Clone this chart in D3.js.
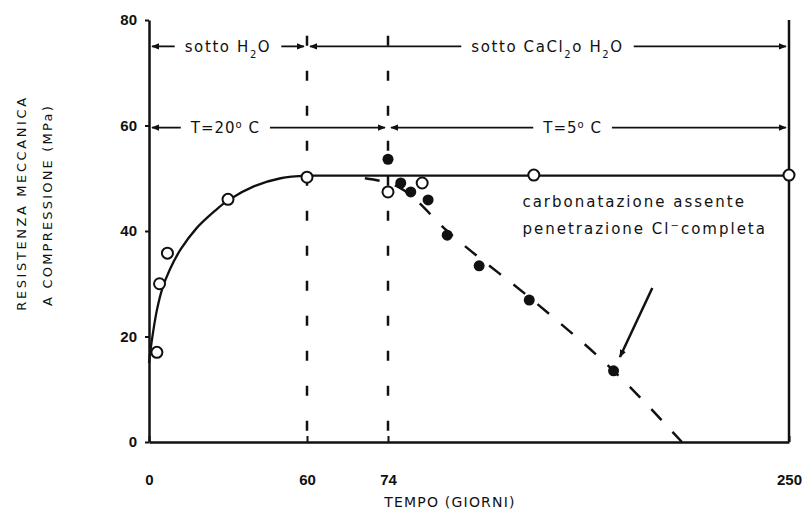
<!DOCTYPE html>
<html>
<head>
<meta charset="utf-8">
<script src="https://cdn.jsdelivr.net/npm/d3@7"></script>
<style>
  body { margin: 0; background: #fff; }
  svg { font-family: "DejaVu Sans", sans-serif; }
</style>
</head>
<body>
<svg id="chart" width="811" height="522"></svg>
<script>
// axis ticks
var xTicks = [0, 60, 74, 250];
var yTicks = [0, 20, 40, 60, 80];

// open circles : cured under water
var openDays   = [3, 4, 7, 30, 60, 74, 89, 138, 250];
var openValues = [17, 30, 35.8, 46, 50.2, 47.4, 49.1, 50.6, 50.6];

// filled circles : under CaCl2
var filledDays   = [74, 79.6, 84, 91.6, 100, 114, 136, 173];
var filledValues = [53.6, 49.1, 47.4, 45.9, 39.2, 33.4, 26.9, 13.5];

// solid curve (rise) and plateau
var curveDays   = [0, 1, 3, 5, 8, 12, 18, 25, 30, 40, 50, 60];
var curveValues = [15, 19, 25, 29, 32.8, 36.5, 40.5, 43.8, 45.8, 48.5, 50, 50.5];
var plateauDays   = [60, 250];
var plateauValues = [50.5, 50.5];

// dashed trend
var trendDays   = [70, 80, 100, 140, 173, 203];
var trendValues = [50, 48, 40, 26, 13.5, 0];

// period bands on top
var bandFrom   = [0, 60, 0, 74];
var bandTo     = [60, 250, 74, 250];
var bandLabelAt = [30, 144, 29, 155];
var bandLevel  = [75, 75, 59.6, 59.6];

var svg = d3.select("#chart");

// time axis is broken: three linear pieces
var x = d3.scaleLinear().domain([0, 60, 74, 250]).range([149, 307, 388, 789]);
var y = d3.scaleLinear().domain([0, 80]).range([442, 20]);

var ink = "#111";

// axes
var xAxis = d3.axisBottom(x).tickValues(xTicks).tickSizeInner(-6).tickSizeOuter(0).tickPadding(38);
var yAxis = d3.axisLeft(y).tickValues(yTicks).tickSizeInner(4).tickSizeOuter(0).tickPadding(8);

var gx = svg.append("g").attr("transform", "translate(0," + y(0) + ")").call(xAxis);
var gy = svg.append("g").attr("transform", "translate(" + x(0) + ",0)").call(yAxis);

[gx, gy].forEach(function(g) {
  g.select(".domain").attr("stroke", ink).attr("stroke-width", 2.5);
  g.selectAll(".tick line").attr("stroke", ink).attr("stroke-width", 2);
  g.selectAll(".tick text").attr("fill", ink).style("font-size", "15px").style("font-weight", "bold");
});
gx.selectAll(".tick text").attr("dy", "0.3em");

// right border
svg.append("line")
  .attr("x1", x(250)).attr("x2", x(250))
  .attr("y1", y(80)).attr("y2", y(0))
  .attr("stroke", ink).attr("stroke-width", 2.5);

// vertical dashed lines at 60 and 74
svg.selectAll(".vline").data([60, 74]).enter().append("line")
  .attr("class", "vline")
  .attr("x1", function(d) { return x(d); })
  .attr("x2", function(d) { return x(d); })
  .attr("y1", y(77)).attr("y2", y(0))
  .attr("stroke", ink).attr("stroke-width", 2.5)
  .attr("stroke-dasharray", "10,25");

var line = d3.line().x(function(d) { return x(d[0]); }).y(function(d) { return y(d[1]); });

// curve
var curvePts = curveDays.map(function(d, i) { return [d, curveValues[i]]; });
svg.append("path")
  .datum(curvePts)
  .attr("fill", "none").attr("stroke", ink).attr("stroke-width", 2.3)
  .attr("d", line.curve(d3.curveCatmullRom.alpha(0.5)));

var plateauPts = plateauDays.map(function(d, i) { return [d, plateauValues[i]]; });
svg.append("path")
  .datum(plateauPts)
  .attr("fill", "none").attr("stroke", ink).attr("stroke-width", 2.3)
  .attr("d", line.curve(d3.curveLinear));

// dashed trend
var trendPts = trendDays.map(function(d, i) { return [d, trendValues[i]]; });
svg.append("path")
  .datum(trendPts)
  .attr("fill", "none").attr("stroke", ink).attr("stroke-width", 2.5)
  .attr("stroke-dasharray", "15,16")
  .attr("d", line.curve(d3.curveMonotoneX));

// points
svg.selectAll(".open").data(openDays).enter().append("circle")
  .attr("class", "open")
  .attr("cx", function(d) { return x(d); })
  .attr("cy", function(d, i) { return y(openValues[i]); })
  .attr("r", 5.5)
  .attr("fill", "#fff").attr("stroke", ink).attr("stroke-width", 2);

svg.selectAll(".filled").data(filledDays).enter().append("circle")
  .attr("class", "filled")
  .attr("cx", function(d) { return x(d); })
  .attr("cy", function(d, i) { return y(filledValues[i]); })
  .attr("r", 5.5)
  .attr("fill", ink);

// arrow marker
var defs = svg.append("defs");
defs.append("marker")
  .attr("id", "ah").attr("viewBox", "0 0 10 10")
  .attr("refX", 9).attr("refY", 5)
  .attr("markerWidth", 8).attr("markerHeight", 8)
  .attr("orient", "auto-start-reverse")
  .attr("markerUnits", "userSpaceOnUse")
  .append("path").attr("d", "M0,1 L10,5 L0,9 Z").attr("fill", ink);

// period bands
bandFrom.forEach(function(from, i) {
  var yy = y(bandLevel[i]);
  var t = svg.append("text")
    .attr("x", x(bandLabelAt[i])).attr("y", yy)
    .attr("dy", "0.35em")
    .attr("text-anchor", "middle")
    .attr("fill", ink)
    .style("font-size", "15px")
    .style("letter-spacing", i < 2 ? "1.6px" : "1px");
  if (i == 0) {
    t.append("tspan").text("sotto H");
    t.append("tspan").attr("baseline-shift", "sub").style("font-size", "10px").text("2");
    t.append("tspan").text("O");
  } else if (i == 1) {
    t.append("tspan").text("sotto CaCl");
    t.append("tspan").attr("baseline-shift", "sub").style("font-size", "10px").text("2");
    t.append("tspan").text("o H");
    t.append("tspan").attr("baseline-shift", "sub").style("font-size", "10px").text("2");
    t.append("tspan").text("O");
  } else if (i == 2) {
    t.append("tspan").text("T=20");
    t.append("tspan").attr("baseline-shift", "super").style("font-size", "10px").text("o");
    t.append("tspan").text(" C");
  } else {
    t.append("tspan").text("T=5");
    t.append("tspan").attr("baseline-shift", "super").style("font-size", "10px").text("o");
    t.append("tspan").text(" C");
  }
  var w = t.node().getComputedTextLength();
  var cx = x(bandLabelAt[i]);
  var x0 = x(from) + 3, x1 = x(bandTo[i]) - 3;
  svg.append("line")
    .attr("x1", cx - w / 2 - 10).attr("x2", x0)
    .attr("y1", yy).attr("y2", yy)
    .attr("stroke", ink).attr("stroke-width", 1.8)
    .attr("marker-end", "url(#ah)");
  svg.append("line")
    .attr("x1", cx + w / 2 + 10).attr("x2", x1)
    .attr("y1", yy).attr("y2", yy)
    .attr("stroke", ink).attr("stroke-width", 1.8)
    .attr("marker-end", "url(#ah)");
});

// annotation
var note = svg.append("text")
  .attr("x", x(133)).attr("y", y(44.5))
  .attr("fill", ink)
  .style("font-size", "15px")
  .style("letter-spacing", "2px");
note.append("tspan").attr("x", x(133)).text("carbonatazione assente");
var l2 = note.append("tspan").attr("x", x(133)).attr("dy", "1.75em");
l2.append("tspan").text("penetrazione Cl");
l2.append("tspan").attr("baseline-shift", "super").style("font-size", "10px").text("−");
l2.append("tspan").text("completa");

svg.append("line")
  .attr("x1", x(190)).attr("y1", y(29.2))
  .attr("x2", x(175.8)).attr("y2", y(16.1))
  .attr("stroke", ink).attr("stroke-width", 2.5)
  .attr("marker-end", "url(#ah)");

// axis titles
svg.append("text")
  .attr("transform", "translate(21,203) rotate(-90)")
  .attr("text-anchor", "middle").attr("dy", "0.35em")
  .attr("fill", ink)
  .style("font-size", "13px").style("letter-spacing", "2.6px")
  .text("RESISTENZA MECCANICA");
svg.append("text")
  .attr("transform", "translate(47,205) rotate(-90)")
  .attr("text-anchor", "middle").attr("dy", "0.35em")
  .attr("fill", ink)
  .style("font-size", "13px").style("letter-spacing", "2.2px")
  .text("A COMPRESSIONE (MPa)");

svg.append("text")
  .attr("x", 450).attr("y", 507)
  .attr("text-anchor", "middle")
  .attr("fill", ink)
  .style("font-size", "14px").style("letter-spacing", "1.2px")
  .text("TEMPO (GIORNI)");
</script>
</body>
</html>
